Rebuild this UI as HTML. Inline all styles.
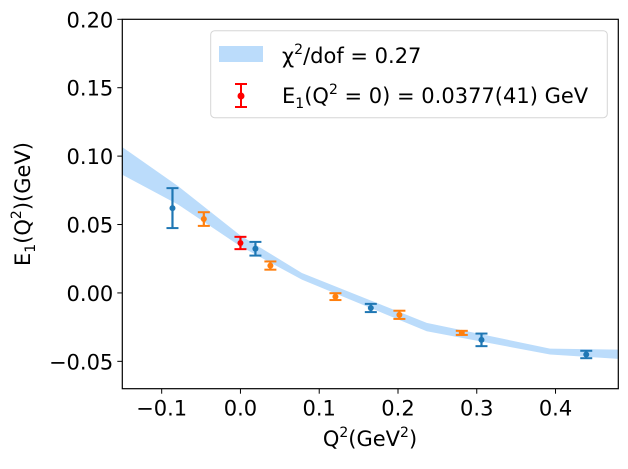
<!DOCTYPE html>
<html><head><meta charset="utf-8"><style>
body{margin:0;background:#fff;}
svg text{font-family:"DejaVu Sans","Liberation Sans",sans-serif;fill:#000;}
</style></head><body>
<svg id="c" width="628" height="464" xmlns="http://www.w3.org/2000/svg"></svg>
<script>
const xTicks=[-0.1,0.0,0.1,0.2,0.3,0.4];
const xTickLabels=["\u22120.1","0.0","0.1","0.2","0.3","0.4"];
const yTicks=[-0.05,0.0,0.05,0.10,0.15,0.20];
const yTickLabels=["\u22120.05","0.00","0.05","0.10","0.15","0.20"];
const bandX=[-0.15,-0.079,0.0,0.078,0.2365,0.393,0.48];
const bandUpper=[0.1066,0.078,0.042,0.0146,-0.0219,-0.0407,-0.0414];
const bandLower=[0.0864,0.0645,0.034,0.0097,-0.028,-0.045,-0.0482];
const blueX=[-0.0863,0.019,0.1655,0.306,0.439];
const blueY=[0.062,0.0323,-0.011,-0.0343,-0.045];
const blueErr=[0.0146,0.005,0.003,0.0046,0.0027];
const orangeX=[-0.0465,0.038,0.1206,0.2018,0.281];
const orangeY=[0.054,0.020,-0.0027,-0.016,-0.0292];
const orangeErr=[0.005,0.003,0.0025,0.003,0.0015];
const redX=[0.0];
const redY=[0.0365];
const redErr=[0.0045];

const L=122.3,R=618.3,T=19.3,B=388.7;
const xMin=-0.15,xMax=0.4797,yMin=-0.07,yMax=0.20;
const sx=v=>L+(v-xMin)/(xMax-xMin)*(R-L);
const sy=v=>B-(v-yMin)/(yMax-yMin)*(B-T);
const svg=document.getElementById('c');
const NS="http://www.w3.org/2000/svg";
function mk(tag,attrs,parent){const e=document.createElementNS(NS,tag);for(const k in attrs)e.setAttribute(k,attrs[k]);(parent||svg).appendChild(e);return e;}

let pts=bandX.map((x,i)=>sx(x)+","+sy(bandUpper[i]));
pts=pts.concat(bandX.map((x,i)=>sx(x)+","+sy(bandLower[i])).reverse());
const band=mk('polygon',{points:pts.join(' '),fill:'#bbdcfb',stroke:'none'});



function series(xs,ys,es,color,name){
  const g=mk('g',{});
  
  
  xs.forEach((x,i)=>{
    const px=sx(x),y0=sy(ys[i]-es[i]),y1=sy(ys[i]+es[i]);
    const p=mk('g',{},g);
    
    
    mk('line',{x1:px,x2:px,y1:y0,y2:y1,stroke:color,'stroke-width':2.2},p);
    mk('line',{x1:px-6,x2:px+6,y1:y0,y2:y0,stroke:color,'stroke-width':2},p);
    mk('line',{x1:px-6,x2:px+6,y1:y1,y2:y1,stroke:color,'stroke-width':2},p);
    mk('circle',{cx:px,cy:sy(ys[i]),r:3,fill:color},p);
  });
}
series(blueX,blueY,blueErr,'#1f77b4','blue');
series(orangeX,orangeY,orangeErr,'#ff7f0e','orange');
series(redX,redY,redErr,'#ff0000','red');

const fr=mk('rect',{x:L,y:T,width:R-L,height:B-T,fill:'none',stroke:'#000','stroke-width':1.2});



xTicks.forEach((t,i)=>{
  const x=sx(t);
  mk('line',{x1:x,x2:x,y1:B,y2:B+5,stroke:'#000','stroke-width':1});
  const tx=mk('text',{x:x,y:B+27,'text-anchor':'middle','font-size':'21'});
  tx.textContent=xTickLabels[i];
  
  
});
yTicks.forEach((t,i)=>{
  const y=sy(t);
  mk('line',{x1:L-5,x2:L,y1:y,y2:y,stroke:'#000','stroke-width':1});
  const tx=mk('text',{x:L-9,y:y+8,'text-anchor':'end','font-size':'21'});
  tx.textContent=yTickLabels[i];
  
  
});
</script>
<svg width="628" height="464" style="position:absolute;left:0;top:0" xmlns="http://www.w3.org/2000/svg">
<text x="370" y="446" text-anchor="middle" font-size="21">Q<tspan dy="-9" font-size="14">2</tspan><tspan dy="9">(GeV</tspan><tspan dy="-9" font-size="14">2</tspan><tspan dy="9">)</tspan></text>
<text transform="translate(30,204) rotate(-90)" text-anchor="middle" font-size="21">E<tspan dy="5" font-size="14">1</tspan><tspan dy="-5">(Q</tspan><tspan dy="-9" font-size="14">2</tspan><tspan dy="9">)(GeV)</tspan></text>
<g>
<rect x="210.7" y="30.7" width="396.6" height="87" rx="4" fill="#fff" fill-opacity="0.8" stroke="#d6d6d6"/>
<rect x="219" y="46" width="44" height="16" fill="#bbdcfb"/>
<text x="282" y="63" font-size="21">χ<tspan dy="-9" font-size="14">2</tspan><tspan dy="9">/dof = 0.27</tspan></text>
<g stroke="#f00" stroke-width="2">
<line x1="241" x2="241" y1="84" y2="107"/><line x1="235" x2="247" y1="84" y2="84"/><line x1="235" x2="247" y1="107" y2="107"/>
<circle cx="241" cy="96" r="2.5" fill="#f00"/></g>
<text x="282" y="103" font-size="21">E<tspan dy="5" font-size="14">1</tspan><tspan dy="-5">(Q</tspan><tspan dy="-9" font-size="14">2</tspan><tspan dy="9"> = 0) = 0.0377(41) GeV</tspan></text>
</g>
</svg>
</body></html>
